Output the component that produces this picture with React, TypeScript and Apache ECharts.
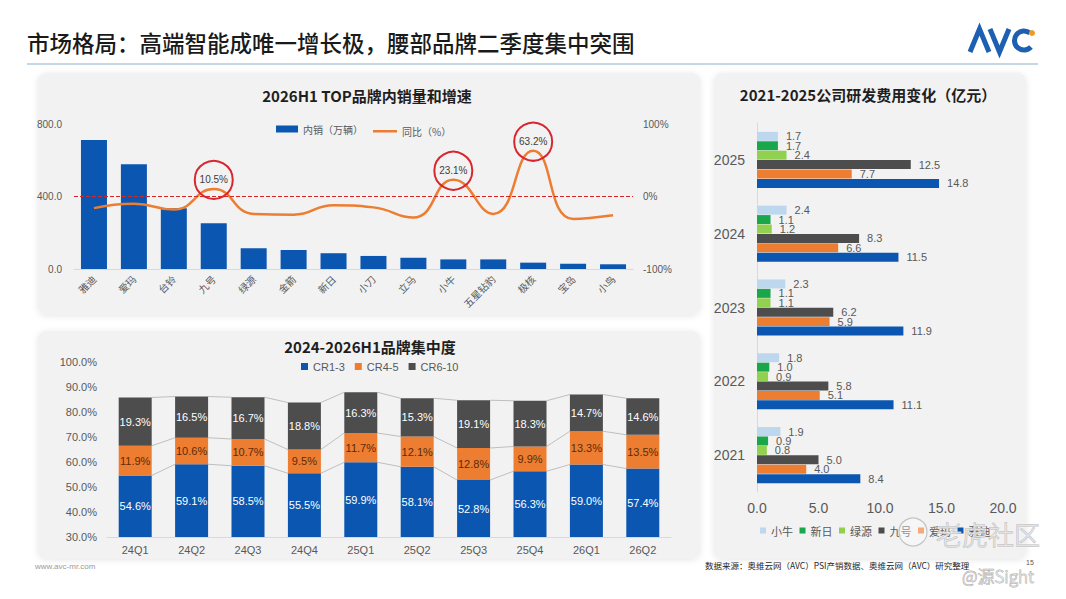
import React, { useEffect, useRef } from 'react';
import * as echarts from 'echarts';

// ---- Top-left: 2026H1 TOP brands domestic sales & YoY ----
const brands = ['雅迪', '爱玛', '台铃', '九号', '绿源', '金箭', '新日', '小刀', '立马', '小牛', '五星钻豹', '极核', '宝岛', '小鸟'];
const domesticSales = [712, 578, 335, 252, 114, 105, 87, 72, 62, 53, 53, 35, 29, 26];
const yoyGrowth = [-16, -10, -18, 10.5, -24, -25, -12, -15, -29, 23.1, -24, 63.2, -31, -26];
const highlightedBrands = ['九号', '小牛', '极核'];
const salesTicks = [0, 400, 800];
const yoyTicks = [-100, 0, 100];

// ---- Bottom-left: 2024-2026H1 brand concentration ----
const quarters = ['24Q1', '24Q2', '24Q3', '24Q4', '25Q1', '25Q2', '25Q3', '25Q4', '26Q1', '26Q2'];
const cr1to3 = [54.6, 59.1, 58.5, 55.5, 59.9, 58.1, 52.8, 56.3, 59.0, 57.4];
const cr4to5 = [11.9, 10.6, 10.7, 9.5, 11.7, 12.1, 12.8, 9.9, 13.3, 13.5];
const cr6to10 = [19.3, 16.5, 16.7, 18.8, 16.3, 15.3, 19.1, 18.3, 14.7, 14.6];

// ---- Right: 2021-2025 R&D expenses (亿元) ----
const years = ['2021', '2022', '2023', '2024', '2025'];
const rdXiaoniu = [1.9, 1.8, 2.3, 2.4, 1.7];
const rdXinri = [0.9, 1.0, 1.1, 1.1, 1.7];
const rdLvyuan = [0.8, 0.9, 1.1, 1.2, 2.4];
const rdNinebot = [5.0, 5.8, 6.2, 8.3, 12.5];
const rdAima = [4.0, 5.1, 5.9, 6.6, 7.7];
const rdYadea = [8.4, 11.1, 11.9, 11.5, 14.8];
const rdNames = ['小牛', '新日', '绿源', '九号', '爱玛', '雅迪'];

const CJK = "'Noto Sans CJK SC', 'Noto Sans', sans-serif";
const NUM = "'Liberation Sans', 'Noto Sans CJK SC', sans-serif";
const GRAY = '#595959';
const BLUE = '#0b56b0';
const ORANGE = '#ed7d31';
const DARK = '#4d4d4d';

function txt(x: number, y: number, text: string, extra: any = {}, align = 'left', z = 10) {
  return {
    type: 'text',
    x,
    y,
    z,
    silent: true,
    style: {
      text,
      fontFamily: CJK,
      fontSize: 12,
      fill: '#262626',
      textAlign: align,
      align,
      textVerticalAlign: 'middle',
      verticalAlign: 'middle',
      ...extra,
    },
  };
}

function panel(x: number, y: number, w: number, h: number) {
  return {
    type: 'rect',
    z: 0,
    silent: true,
    shape: { x, y, width: w, height: h, r: 8 },
    style: { fill: '#f2f2f2', shadowBlur: 6, shadowColor: 'rgba(0,0,0,0.10)', shadowOffsetY: 1 },
  };
}

export default function App() {
  const ref = useRef<HTMLDivElement>(null);

  useEffect(() => {
    if (!ref.current) return;
    const chart = echarts.init(ref.current, undefined, { renderer: 'svg' });

    const cum1 = cr1to3.map((v) => v);
    const cum2 = cr1to3.map((v, i) => v + cr4to5[i]);
    const cum3 = cr1to3.map((v, i) => v + cr4to5[i] + cr6to10[i]);
    const levels = [cum1, cum2, cum3];

    const rdSeriesData = [rdXiaoniu, rdXinri, rdLvyuan, rdNinebot, rdAima, rdYadea];
    const rdColors = ['#bdd7ee', '#1aa64a', '#92d050', DARK, ORANGE, BLUE];

    const option: any = {
      animation: false,
      textStyle: { fontFamily: NUM },
      graphic: {
        elements: [
          // header
          txt(27, 42, '市场格局：高端智能成唯一增长极，腰部品牌二季度集中突围', { fontSize: 22.5, fill: '#1a1a1a', fontWeight: 500 }),
          { type: 'line', z: 5, silent: true, shape: { x1: 27, y1: 64, x2: 1038, y2: 64 }, style: { stroke: '#c5d6e4', lineWidth: 2 } },
          // AVC logo
          { type: 'polyline', z: 10, silent: true, shape: { points: [[970, 52], [979.5, 29], [989, 52]] }, style: { stroke: '#1d5fb0', lineWidth: 5, fill: null, lineJoin: 'miter' } },
          { type: 'polyline', z: 10, silent: true, shape: { points: [[990, 29], [999.5, 52], [1009, 29]] }, style: { stroke: '#1d5fb0', lineWidth: 5, fill: null, lineJoin: 'miter' } },
          { type: 'arc', z: 10, silent: true, shape: { cx: 1024, cy: 40.5, r: 9.5, startAngle: 0.75, endAngle: Math.PI * 2 - 0.9, clockwise: true }, style: { stroke: '#1d5fb0', lineWidth: 5, fill: null } },
          { type: 'circle', z: 11, silent: true, shape: { cx: 1032, cy: 33, r: 3 }, style: { fill: '#f39a1e' } },
          // panels
          panel(38, 73, 662, 242),
          panel(38, 331, 662, 228),
          panel(714, 73, 312, 486),
          // panel titles
          txt(367, 95, '2026H1 TOP品牌内销量和增速', { fontSize: 15, fontWeight: 'bold', fill: '#1f1f1f' }, 'center'),
          txt(370, 346, '2024-2026H1品牌集中度', { fontSize: 15, fontWeight: 'bold', fill: '#1f1f1f' }, 'center'),
          txt(868, 94, '2021-2025公司研发费用变化（亿元）', { fontSize: 15, fontWeight: 'bold', fill: '#1f1f1f' }, 'center'),
          // footer
          txt(35, 566, 'www.avc-mr.com', { fontSize: 8, fill: '#9a9a9a', fontFamily: NUM }),
          txt(705, 565, '数据来源：奥维云网（AVC）PSI产销数据、奥维云网（AVC）研究整理', { fontSize: 8.5, fill: '#262626' }),
          txt(1026, 562, '15', { fontSize: 7, fill: '#595959', fontFamily: NUM }),
          // overlay watermarks
          { type: 'circle', z: 20, silent: true, shape: { cx: 913, cy: 532, r: 14 }, style: { fill: 'rgba(255,255,255,0.35)', stroke: '#c4c4c4', lineWidth: 1.2 } },
          txt(936, 533, '老虎社区', { fontSize: 26, fill: 'rgba(255,255,255,0.55)', stroke: '#bdbdbd', lineWidth: 1, fontWeight: 300 }, 'left', 20),
          txt(962, 575, '@源Sight', { fontSize: 17, fill: 'rgba(255,255,255,0.6)', stroke: '#a9a9a9', lineWidth: 0.8, fontWeight: 300 }, 'left', 20),
        ],
      },
      legend: [
        {
          left: 271,
          top: 119,
          itemWidth: 22,
          itemHeight: 7,
          textStyle: { fontSize: 10, color: GRAY, fontFamily: CJK },
          data: [{ name: '内销（万辆）', icon: 'rect' }],
        },
        {
          left: 368,
          top: 121.25,
          itemWidth: 24,
          itemHeight: 2.5,
          textStyle: { fontSize: 10, color: GRAY, fontFamily: CJK },
          data: [{ name: '同比（%）', icon: 'rect' }],
        },
        {
          left: 296,
          top: 356,
          icon: 'rect',
          itemWidth: 7,
          itemHeight: 7,
          itemGap: 10,
          textStyle: { fontSize: 11, color: GRAY, fontFamily: NUM },
          data: ['CR1-3', 'CR4-5', 'CR6-10'],
        },
        {
          left: 755,
          top: 520,
          icon: 'rect',
          itemWidth: 6,
          itemHeight: 6,
          itemGap: 6.5,
          textStyle: { fontSize: 11, color: GRAY, fontFamily: CJK },
          data: rdNames,
        },
      ],
      grid: [
        { left: 74, right: 433, top: 124, bottom: 330 },
        { left: 107, right: 395, top: 362, bottom: 62 },
        { left: 757, right: 63, top: 123, bottom: 107 },
      ],
      xAxis: [
        {
          type: 'category',
          gridIndex: 0,
          data: brands,
          axisTick: { show: false },
          axisLine: { lineStyle: { color: '#d9d9d9' } },
          axisLabel: { rotate: 45, interval: 0, fontSize: 10, color: GRAY, margin: 8, fontFamily: CJK },
        },
        {
          type: 'category',
          gridIndex: 1,
          data: quarters,
          axisTick: { show: false },
          axisLine: { lineStyle: { color: '#d9d9d9' } },
          axisLabel: { fontSize: 11, color: GRAY, margin: 7 },
        },
        {
          type: 'value',
          gridIndex: 2,
          min: 0,
          max: 20,
          interval: 5,
          splitLine: { show: false },
          axisLabel: { formatter: (v: number) => v.toFixed(1), fontSize: 14, color: GRAY, margin: 9 },
        },
      ],
      yAxis: [
        {
          type: 'value',
          gridIndex: 0,
          min: salesTicks[0],
          max: salesTicks[2],
          interval: salesTicks[1] - salesTicks[0],
          splitLine: { show: false },
          axisLabel: { formatter: (v: number) => v.toFixed(1), fontSize: 10, color: GRAY, margin: 12 },
        },
        {
          type: 'value',
          gridIndex: 0,
          position: 'right',
          min: yoyTicks[0],
          max: yoyTicks[2],
          interval: yoyTicks[1] - yoyTicks[0],
          splitLine: { show: false },
          axisLabel: { formatter: '{value}%', fontSize: 10, color: GRAY, margin: 10 },
        },
        {
          type: 'value',
          gridIndex: 1,
          min: 30,
          max: 100,
          interval: 10,
          splitLine: { show: false },
          axisLabel: { formatter: (v: number) => v.toFixed(1) + '%', fontSize: 11, color: GRAY, margin: 10 },
        },
        {
          type: 'category',
          gridIndex: 2,
          data: years,
          axisTick: { show: false },
          axisLine: { lineStyle: { color: '#d9d9d9' } },
          axisLabel: { fontSize: 14, color: GRAY, margin: 12 },
        },
      ],
      series: [
        {
          name: '内销（万辆）',
          type: 'bar',
          xAxisIndex: 0,
          yAxisIndex: 0,
          barWidth: 26,
          itemStyle: { color: BLUE },
          data: domesticSales,
          z: 2,
        },
        {
          name: '同比（%）',
          type: 'line',
          xAxisIndex: 0,
          yAxisIndex: 1,
          smooth: 0.5,
          symbol: 'none',
          z: 3,
          lineStyle: { color: ORANGE, width: 2.5 },
          itemStyle: { color: ORANGE },
          data: yoyGrowth,
          markLine: {
            silent: true,
            symbol: ['none', 'none'],
            label: { show: false },
            lineStyle: { color: '#d62728', type: 'dashed', width: 1 },
            data: [{ yAxis: 0 }],
          },
          markPoint: {
            silent: true,
            symbol: 'circle',
            symbolSize: 38,
            symbolOffset: [0, -9],
            itemStyle: { color: 'rgba(255,255,255,0)', borderColor: '#d7262e', borderWidth: 2 },
            label: {
              show: true,
              position: 'inside',
              formatter: (p: any) => p.value + '%',
              color: '#404040',
              fontSize: 10,
            },
            data: highlightedBrands.map((b) => {
              const i = brands.indexOf(b);
              return { coord: [b, yoyGrowth[i]], value: yoyGrowth[i] };
            }),
          },
        },
        ...[
          { name: 'CR1-3', data: cr1to3, color: BLUE, label: '#ffffff' },
          { name: 'CR4-5', data: cr4to5, color: ORANGE, label: '#5a2c0a' },
          { name: 'CR6-10', data: cr6to10, color: DARK, label: '#ffffff' },
        ].map((s) => ({
          name: s.name,
          type: 'bar',
          stack: 'cr',
          xAxisIndex: 1,
          yAxisIndex: 2,
          barWidth: 33,
          itemStyle: { color: s.color },
          label: {
            show: true,
            position: 'inside',
            formatter: (p: any) => Number(p.value).toFixed(1) + '%',
            color: s.label,
            fontSize: 11,
          },
          data: s.data,
          z: 3,
        })),
        {
          type: 'custom',
          xAxisIndex: 1,
          yAxisIndex: 2,
          silent: true,
          z: 2,
          data: quarters.slice(0, -1).map((_, i) => [i, 0]),
          encode: { x: 0, y: 1 },
          renderItem: (params: any, api: any) => {
            const i = params.dataIndex;
            const half = 16.5;
            return {
              type: 'group',
              children: levels.map((lv) => {
                const a = api.coord([i, lv[i]]);
                const b = api.coord([i + 1, lv[i + 1]]);
                return {
                  type: 'line',
                  shape: { x1: a[0] + half, y1: a[1], x2: b[0] - half, y2: b[1] },
                  style: { stroke: '#bfbfbf', lineWidth: 1 },
                };
              }),
            };
          },
        },
        ...rdNames.map((name, k) => ({
          name,
          type: 'bar',
          xAxisIndex: 2,
          yAxisIndex: 3,
          barGap: '5%',
          barCategoryGap: '24%',
          itemStyle: { color: rdColors[k] },
          label: {
            show: true,
            position: 'right',
            distance: 8,
            formatter: (p: any) => Number(p.value).toFixed(1),
            color: GRAY,
            fontSize: 11,
          },
          data: rdSeriesData[k],
        })),
      ],
    };

    chart.setOption(option);
    return () => chart.dispose();
  }, []);

  return (
    <div
      ref={ref}
      style={{ position: 'fixed', left: 0, top: 0, width: 1066, height: 599, background: '#ffffff' }}
    />
  );
}
